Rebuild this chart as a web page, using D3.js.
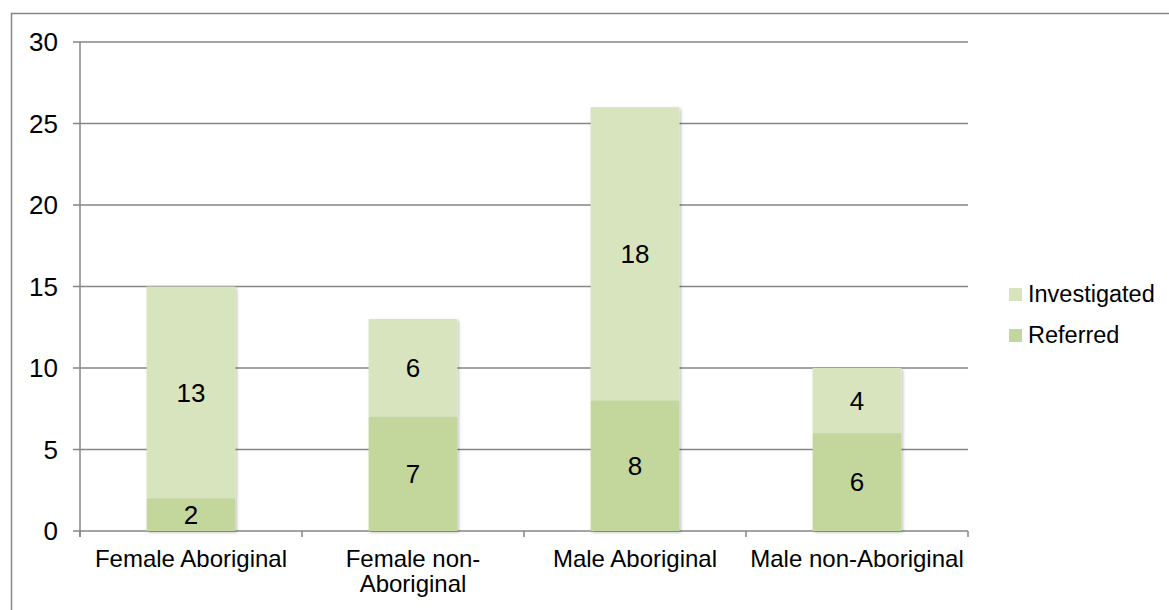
<!DOCTYPE html>
<html><head><meta charset="utf-8">
<script src="https://cdn.jsdelivr.net/npm/d3@7"></script>
<style>body{margin:0;background:#fff}svg{display:block;font-family:"Liberation Sans",Arial,sans-serif}</style>
</head><body><svg id="c" width="1169" height="610"></svg>
<script>
const categories = [["Female Aboriginal"], ["Female non-", "Aboriginal"], ["Male Aboriginal"], ["Male non-Aboriginal"]];
const referred = [2, 7, 8, 6];
const investigated = [13, 6, 18, 4];
const seriesNames = ["Investigated", "Referred"];
const yTicks = [0, 5, 10, 15, 20, 25, 30];
const colors = {Referred: "#c3d69b", Investigated: "#d7e4bd"};

const svg = d3.select("#c");
const defs = svg.append("defs");
const f = defs.append("filter").attr("id","sh").attr("x","-10%").attr("y","-10%").attr("width","130%").attr("height","130%");
f.append("feDropShadow").attr("dx",1.5).attr("dy",1.5).attr("stdDeviation",1.5).attr("flood-color","#000").attr("flood-opacity",0.25);

// outer border
svg.append("rect").attr("x",11.5).attr("y",13.5).attr("width",1200).attr("height",700)
  .attr("fill","none").attr("stroke","#868686").attr("stroke-width",1.5);

const L = 80, R = 968, T = 42, B = 531;
const keys = categories.map(c => c.join(" "));
const x = d3.scaleBand().domain(keys).range([L, R]).paddingInner(0.6).paddingOuter(0.3);
const y = d3.scaleLinear().domain([0, 30]).range([B, T]);
const stroke = "#868686";

// gridlines
svg.append("g").selectAll("line").data(yTicks).join("line")
  .attr("x1", L-7).attr("x2", R).attr("y1", d => y(d)).attr("y2", d => y(d))
  .attr("stroke", stroke).attr("stroke-width", 1.5);
// y axis line
svg.append("line").attr("x1",L).attr("x2",L).attr("y1",T).attr("y2",B+6).attr("stroke",stroke).attr("stroke-width",1.5);
// x ticks at category boundaries
const step = (R-L)/keys.length;
svg.append("g").selectAll("line").data(d3.range(keys.length+1)).join("line")
  .attr("x1", i => L+i*step).attr("x2", i => L+i*step).attr("y1", B).attr("y2", B+6)
  .attr("stroke", stroke).attr("stroke-width",1.5);

// y labels
svg.append("g").selectAll("text").data(yTicks).join("text")
  .attr("x", 58).attr("y", d => y(d)).attr("dy","0.36em").attr("text-anchor","end")
  .attr("font-size",26).attr("fill","#000").text(d => d);

// bars
const data = keys.map((k,i) => ({k, r: referred[i], v: investigated[i]}));
const g = svg.append("g");
data.forEach(d => {
  const bg = g.append("g").attr("filter","url(#sh)");
  bg.append("rect").attr("x", x(d.k)).attr("width", x.bandwidth())
    .attr("y", y(d.r + d.v)).attr("height", y(d.r) - y(d.r + d.v)).attr("fill", colors.Investigated);
  bg.append("rect").attr("x", x(d.k)).attr("width", x.bandwidth())
    .attr("y", y(d.r)).attr("height", y(0) - y(d.r)).attr("fill", colors.Referred);
});
data.forEach(d => {
  const cx = x(d.k) + x.bandwidth()/2;
  g.append("text").attr("x", cx).attr("y", (y(d.r)+y(d.r+d.v))/2).attr("dy","0.36em")
    .attr("text-anchor","middle").attr("font-size",26).text(d.v);
  g.append("text").attr("x", cx).attr("y", (y(0)+y(d.r))/2).attr("dy","0.36em")
    .attr("text-anchor","middle").attr("font-size",26).text(d.r);
});

// category labels
categories.forEach((lines, i) => {
  const t = svg.append("text").attr("x", x(keys[i]) + x.bandwidth()/2).attr("y", 567)
    .attr("text-anchor","middle").attr("font-size",24);
  lines.forEach((ln, j) => t.append("tspan").attr("x", x(keys[i]) + x.bandwidth()/2).attr("dy", j ? 25 : 0).text(ln));
});

// legend
seriesNames.forEach((s, i) => {
  const ly = 294 + i*41;
  svg.append("rect").attr("x",1009).attr("y",ly-6).attr("width",13).attr("height",13).attr("fill",colors[s]);
  svg.append("text").attr("x",1028).attr("y",ly).attr("dy","0.36em").attr("font-size",23.5).text(s);
});
</script></body></html>
